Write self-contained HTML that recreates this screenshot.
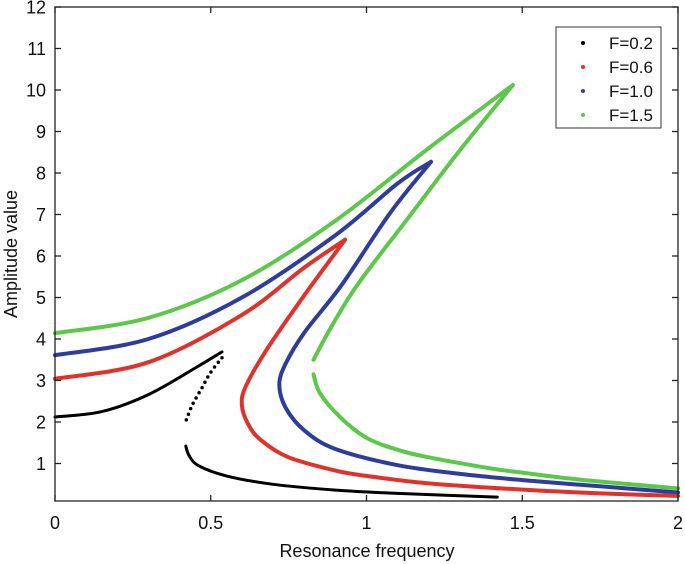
<!DOCTYPE html>
<html><head><meta charset="utf-8"><style>
body{margin:0;background:#fff;}
svg{display:block;font-family:"Liberation Sans",Arial,sans-serif;}
</style></head><body>
<svg id="chart" width="685" height="564">
<g id="plot"></g>
<g id="axes"></g>
</svg>
<script>
const xTicks=[0,0.5,1,1.5,2];
const xTickLabels=["0","0.5","1","1.5","2"];
const yTicks=[1,2,3,4,5,6,7,8,9,10,11,12];
const seriesNames=["F=0.2","F=0.6","F=1.0","F=1.5"];
const seriesColors=["#000000","#e0322a","#2e3d9c","#5cc84a"];
const blackX=[0,0.15,0.3,0.45,0.536];
const blackY=[2.12,2.25,2.66,3.3,3.69];
const blackMidX=[0.536,0.5,0.47,0.44,0.42];
const blackMidY=[3.55,3.2,2.8,2.4,2.02];
const blackLowX=[0.42,0.43,0.46,0.55,0.7,0.9,1.1,1.42];
const blackLowY=[1.42,1.2,0.95,0.7,0.5,0.36,0.28,0.19];
const redUpX=[0,0.3,0.6,0.8,0.931];
const redUpY=[3.04,3.44,4.58,5.72,6.39];
const redX=[0.931,0.8,0.68,0.612,0.6,0.62,0.66,0.75,0.9,1.0,1.2,1.5,1.75,2];
const redY=[6.39,5.05,3.75,2.85,2.4,1.95,1.57,1.15,0.83,0.7,0.52,0.37,0.28,0.22];
const blueUpX=[0,0.3,0.6,0.9,1.1,1.207];
const blueUpY=[3.61,4.0,5.0,6.5,7.75,8.27];
const blueX=[1.207,1.075,0.92,0.8,0.74,0.72,0.74,0.8,0.9,1.1,1.3,1.5,1.75,2];
const blueY=[8.27,7.03,5.3,4.15,3.4,2.9,2.35,1.8,1.35,0.96,0.75,0.6,0.45,0.3];
const greenUpX=[0,0.3,0.6,0.9,1.2,1.47];
const greenUpY=[4.14,4.51,5.42,6.85,8.6,10.12];
const greenX=[1.47,1.3,1.129,0.97,0.88,0.83];
const greenY=[10.12,8.55,6.87,5.3,4.2,3.5];
const greenLowX=[0.83,0.85,0.915,1.0,1.1,1.2,1.4,1.5,1.7,2.0];
const greenLowY=[3.15,2.7,2.12,1.62,1.33,1.15,0.88,0.78,0.6,0.4];

const X0=55,X1=678,Y0=501,Y1=7,xmin=0,xmax=2,ymax=12,ymin=12-494/41.5;
const sx=v=>X0+(v-xmin)/(xmax-xmin)*(X1-X0);
const sy=v=>Y0-(v-ymin)/(ymax-ymin)*(Y0-Y1);
const NS="http://www.w3.org/2000/svg";
const plot=document.getElementById('plot'),axes=document.getElementById('axes');
function mk(tag,attrs,parent){const e=document.createElementNS(NS,tag);for(const k in attrs)e.setAttribute(k,attrs[k]);parent.appendChild(e);return e;}
function smooth(xs,ys){
  const P=xs.map((x,i)=>[sx(x),sy(ys[i])]);
  let d='M'+P[0][0].toFixed(1)+','+P[0][1].toFixed(1);
  for(let i=0;i<P.length-1;i++){
    const p0=P[i-1]||P[i],p1=P[i],p2=P[i+1],p3=P[i+2]||P[i+1];
    const c1=[p1[0]+(p2[0]-p0[0])/6,p1[1]+(p2[1]-p0[1])/6];
    const c2=[p2[0]-(p3[0]-p1[0])/6,p2[1]-(p3[1]-p1[1])/6];
    d+='C'+c1.map(v=>v.toFixed(1)).join(',')+' '+c2.map(v=>v.toFixed(1)).join(',')+' '+p2[0].toFixed(1)+','+p2[1].toFixed(1);
  }
  return d;
}
function line(xs,ys,color,w,name,dash){
  const p=mk('path',{d:smooth(xs,ys),fill:'none',stroke:color,'stroke-width':w,'stroke-linecap':'round','stroke-linejoin':'round'},plot);
  if(dash)p.setAttribute('stroke-dasharray',dash);
  
  
}
line(greenUpX,greenUpY,seriesColors[3],4,'series-f1.5-upper');
line(greenX,greenY,seriesColors[3],4,'series-f1.5-middle');
line(greenLowX,greenLowY,seriesColors[3],4,'series-f1.5-lower');
line(blueUpX,blueUpY,seriesColors[2],4,'series-f1.0-upper');
line(blueX,blueY,seriesColors[2],4,'series-f1.0-lower');
line(redUpX,redUpY,seriesColors[1],4,'series-f0.6-upper');
line(redX,redY,seriesColors[1],4,'series-f0.6-lower');
line(blackX,blackY,seriesColors[0],3,'series-f0.2-upper');
line(blackMidX,blackMidY,seriesColors[0],3.5,'series-f0.2-middle','0 6');
line(blackLowX,blackLowY,seriesColors[0],3,'series-f0.2-lower');

mk('rect',{x:X0,y:Y1,width:X1-X0,height:Y0-Y1,fill:'none',stroke:'#222','stroke-width':1.3},axes);
xTicks.forEach((v,i)=>{
  const x=sx(v);
  const t=mk('line',{x1:x,x2:x,y1:Y0,y2:Y0-6,stroke:'#222','stroke-width':1.3},axes);
  
  mk('line',{x1:x,x2:x,y1:Y1,y2:Y1+6,stroke:'#222','stroke-width':1.3},axes);
  const l=mk('text',{x:x,y:529,'text-anchor':'middle','font-size':18,fill:'#111'},axes);
  l.textContent=xTickLabels[i];
  
});
yTicks.forEach(v=>{
  const y=sy(v);
  const t=mk('line',{x1:X0,x2:X0+6,y1:y,y2:y,stroke:'#222','stroke-width':1.3},axes);
  
  mk('line',{x1:X1,x2:X1-6,y1:y,y2:y,stroke:'#222','stroke-width':1.3},axes);
  const l=mk('text',{x:46,y:y+6.5,'text-anchor':'end','font-size':18,fill:'#111'},axes);
  l.textContent=String(v);
  
});
const xt=mk('text',{x:367,y:557,'text-anchor':'middle','font-size':18,fill:'#111'},axes);
xt.textContent='Resonance frequency';

const yt=mk('text',{x:0,y:0,'text-anchor':'middle','font-size':18,fill:'#111',transform:'translate(17,254) rotate(-90)'},axes);
yt.textContent='Amplitude value';


const lg=mk('g',{},axes);

mk('rect',{x:556,y:27,width:105,height:101,fill:'#fff',stroke:'#333','stroke-width':1},lg);
seriesNames.forEach((n,i)=>{
  const y=43+i*24;
  const c=mk('circle',{cx:583,cy:y,r:2,fill:seriesColors[i]},lg);
  
  const t=mk('text',{x:609,y:y+6,'font-size':17,fill:'#111'},lg);
  t.textContent=n;
  
});
</script>
</body></html>
